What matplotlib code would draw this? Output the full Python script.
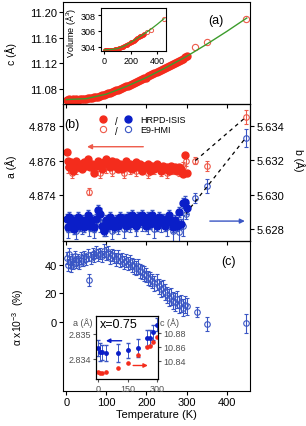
import matplotlib.pyplot as plt
from matplotlib.lines import Line2D
from matplotlib.legend_handler import HandlerTuple

plt.rcParams['font.family'] = ['Liberation Sans', 'DejaVu Sans']
plt.rcParams['mathtext.fontset'] = 'custom'
plt.rcParams['mathtext.rm'] = 'Liberation Sans'
plt.rcParams['mathtext.default'] = 'regular'

RED = '#f42c1c'
RED_O = '#ee5a4a'
BLUE = '#0a1ec8'
BLUE_O = '#3a56c4'
GREEN = '#3c9c2c'
GRAY = '#505050'

# HRPD-ISIS (filled symbols)
T_hrpd = [2, 5, 8, 12, 16, 20, 25, 30, 35, 40, 45, 50, 55, 60, 65, 70, 75, 80, 85, 90,
          95, 100, 105, 110, 115, 120, 125, 130, 135, 140, 145, 150, 155, 160, 165, 170,
          175, 180, 185, 190, 195, 200, 205, 210, 215, 220, 225, 230, 235, 240, 245, 250,
          255, 260, 265, 270, 275, 280, 285, 290, 295, 300]
c_hrpd = [11.0636, 11.0632, 11.0638, 11.0634, 11.0637, 11.0635, 11.0639, 11.0636, 11.0640, 11.0642,
          11.0645, 11.0650, 11.0654, 11.0658, 11.0663, 11.0668, 11.0675, 11.0683, 11.0691, 11.0700,
          11.0710, 11.0720, 11.0731, 11.0743, 11.0755, 11.0767, 11.0779, 11.0791, 11.0803, 11.0815,
          11.0828, 11.0840, 11.0854, 11.0868, 11.0882, 11.0896, 11.0910, 11.0924, 11.0938, 11.0952,
          11.0966, 11.0980, 11.0996, 11.1012, 11.1028, 11.1044, 11.1060, 11.1076, 11.1092, 11.1108,
          11.1124, 11.1140, 11.1157, 11.1174, 11.1191, 11.1208, 11.1225, 11.1242, 11.1259, 11.1276,
          11.1293, 11.1310]
a_hrpd = [4.8765, 4.8760, 4.8756, 4.8759, 4.8754, 4.8757, 4.8760, 4.8756, 4.8758, 4.8755,
          4.8759, 4.8757, 4.8761, 4.8756, 4.8758, 4.8753, 4.8757, 4.8760, 4.8757, 4.8755,
          4.8759, 4.8761, 4.8758, 4.8756, 4.8760, 4.8757, 4.8759, 4.8755, 4.8758, 4.8755,
          4.8757, 4.8760, 4.8756, 4.8758, 4.8755, 4.8757, 4.8759, 4.8756, 4.8758, 4.8754,
          4.8757, 4.8756, 4.8758, 4.8754, 4.8757, 4.8755, 4.8758, 4.8756, 4.8754, 4.8757,
          4.8755, 4.8756, 4.8754, 4.8757, 4.8755, 4.8756, 4.8754, 4.8756, 4.8755, 4.8752,
          4.8763, 4.8753]
b_hrpd = [5.6286, 5.6281, 5.6287, 5.6283, 5.6285, 5.6280, 5.6284, 5.6287, 5.6282, 5.6285,
          5.6281, 5.6284, 5.6288, 5.6282, 5.6285, 5.6281, 5.6286, 5.6291, 5.6289, 5.6282,
          5.6279, 5.6285, 5.6282, 5.6287, 5.6284, 5.6281, 5.6285, 5.6282, 5.6287, 5.6284,
          5.6286, 5.6282, 5.6287, 5.6283, 5.6288, 5.6285, 5.6282, 5.6287, 5.6284, 5.6288,
          5.6285, 5.6282, 5.6287, 5.6283, 5.6288, 5.6285, 5.6282, 5.6287, 5.6284, 5.6286,
          5.6282, 5.6285, 5.6288, 5.6284, 5.6281, 5.6285, 5.6282, 5.6290, 5.6283, 5.6295,
          5.6296, 5.6292]
b_hrpd_err = 0.0003

# fit curves
T_fit = [0, 50, 100, 150, 200, 250, 300, 350, 400, 450]
c_fit = [11.0635, 11.0650, 11.0720, 11.0840, 11.0980, 11.1140, 11.1310, 11.1500, 11.1700, 11.1910]
V_fit = [303.60, 303.63, 303.76, 304.08, 304.55, 305.07, 305.62, 306.20, 306.85, 307.55]

# volume inset
T_vol = [2, 10, 20, 30, 40, 50, 60, 70, 80, 90, 100, 110, 120, 130, 140, 150, 160, 170,
         180, 190, 200, 210, 220, 230, 240, 250, 260, 270, 280, 290, 300]
V_vol = [303.62, 303.61, 303.63, 303.62, 303.62, 303.63, 303.63, 303.64, 303.67, 303.71,
         303.76, 303.82, 303.88, 303.95, 304.02, 304.10, 304.18, 304.27, 304.36, 304.45,
         304.55, 304.65, 304.75, 304.85, 304.96, 305.07, 305.18, 305.29, 305.40, 305.51, 305.62]
T_e9_hi = [322, 352, 447]
c_e9_hi = [11.1456, 11.1540, 11.1900]
V_e9_hi = [305.85, 306.15, 307.50]

# E9-HMI (open symbols)
T_e9 = [5, 15, 25, 40, 58, 70, 85, 100, 115, 130, 145, 160, 175, 190, 205, 220, 235, 250,
        265, 280, 290, 298, 322, 352, 447]
a_e9 = [4.8756, 4.8753, 4.8755, 4.8757, 4.8742, 4.8755, 4.8753, 4.8756, 4.8754, 4.8757,
        4.8753, 4.8755, 4.8754, 4.8756, 4.8753, 4.8755, 4.8754, 4.8753, 4.8755, 4.8754,
        4.8756, 4.8760, 4.8760, 4.8757, 4.8785]
a_e9_err = [0.0003, 0.0003, 0.0003, 0.0003, 0.0002, 0.0003, 0.0003, 0.0003, 0.0003, 0.0003,
            0.0003, 0.0003, 0.0003, 0.0003, 0.0003, 0.0003, 0.0003, 0.0003, 0.0003, 0.0003,
            0.0003, 0.0003, 0.0002, 0.0003, 0.0004]
b_e9 = [5.6280, 5.6283, 5.6279, 5.6282, 5.6281, 5.6280, 5.6283, 5.6281, 5.6279, 5.6282,
        5.6280, 5.6283, 5.6281, 5.6284, 5.6282, 5.6280, 5.6283, 5.6281, 5.6279, 5.6278,
        5.6282, 5.6289, 5.6298, 5.6305, 5.6333]
b_e9_err = [0.0005, 0.0005, 0.0005, 0.0005, 0.0005, 0.0005, 0.0005, 0.0005, 0.0005, 0.0005,
            0.0005, 0.0005, 0.0005, 0.0005, 0.0005, 0.0005, 0.0005, 0.0005, 0.0006, 0.0006,
            0.0006, 0.0003, 0.0003, 0.0004, 0.0005]

# panel (c)
T_alpha = [2, 4, 6, 9, 12, 15, 18, 21, 25, 29, 33, 37, 41, 45, 50, 54, 58, 62, 66, 70,
           75, 80, 85, 90, 95, 100, 105, 110, 115, 120, 125, 130, 135, 140, 145, 150, 155,
           160, 165, 170, 175, 180, 185, 190, 195, 200, 205, 210, 215, 220, 225, 230, 235,
           240, 245, 250, 255, 260, 265, 270, 275, 280, 285, 290, 295, 300, 325, 352, 447]
alpha = [45, 40, 48, 42, 39, 44, 41, 46, 42, 44, 41, 45, 43, 46, 44, 47, 29.5, 45, 48, 46,
         49, 47, 48, 46, 50, 48, 49, 45, 47, 46, 44, 46, 43, 44, 42, 43, 41,
         42, 40, 39, 38, 39, 36, 35, 34, 33, 31, 30, 29, 27, 28, 25, 23,
         24, 21, 19, 17, 18, 15, 14, 16, 12, 13, 10, 12, 11, 7, -1.4, -0.9]
alpha_err = [4, 4, 4, 4, 4, 4, 4, 4, 4, 4, 4, 4, 4, 4, 4, 4, 4, 4, 4, 4,
             4, 4, 4, 4, 4.5, 4.5, 4.5, 4.5, 4.5, 4.5, 4.5, 4.5, 4.5, 4.5, 4.5, 4.5, 4.5,
             5, 5, 5, 5, 5, 5, 5, 5, 5, 5, 5, 5, 5, 5.5, 5.5, 5.5,
             5.5, 5.5, 5.5, 6, 6, 6, 6, 6, 6, 6, 6, 6, 6, 3.5, 5, 6.5]

# inset x=0.75
T_ins = [2, 12, 20, 40, 100, 150, 200, 250, 265, 280, 300]
a_ins = [2.83444, 2.83428, 2.83427, 2.83424, 2.83425, 2.83434, 2.83444, 2.83484, 2.83485, 2.83507, 2.83537]
a_ins_err = [0.0003, 0.00035, 0.0003, 0.0003, 0.00035, 0.0003, 0.00035, 0.0003, 0.0003, 0.0003, 0.00025]
c_ins = [10.8239, 10.8229, 10.8229, 10.8239, 10.8296, 10.8367, 10.8476, 10.8596, 10.8610, 10.8667, 10.8743]

W_PX, H_PX = 306, 427
fig = plt.figure(figsize=(W_PX / 100, H_PX / 100), dpi=100)


def box(x0, y0, x1, y1):
    return [x0 / W_PX, 1 - y1 / H_PX, (x1 - x0) / W_PX, (y1 - y0) / H_PX]


def style(ax, size=8, color='k'):
    ax.tick_params(direction='out', length=3, width=0.8, labelsize=size,
                   colors=color, pad=1.5)
    for s in ax.spines.values():
        s.set_linewidth(0.8)


xt = [0, 100, 200, 300, 400]
axa = fig.add_axes(box(63, 3, 250, 105), facecolor='none')
axb = fig.add_axes(box(63, 105, 250, 242), facecolor='none')
axc = fig.add_axes(box(63, 242, 250, 392), facecolor='none')
for ax in (axa, axb, axc):
    style(ax)
    ax.set_xlim(-8, 458)
    ax.set_xticks(xt)
for ax in (axa, axb):
    ax.set_xticklabels([])

# ---- (a)
axa.plot(T_hrpd, c_hrpd, 'o', color=RED, ms=5, zorder=2)
axa.plot(T_e9_hi, c_e9_hi, 'o', mfc='none', mec=RED_O, ms=4.5, mew=0.8, zorder=2)
axa.plot(T_fit, c_fit, color=GREEN, lw=1, zorder=3)
axa.set_ylim(11.0566, 11.216)
axa.set_yticks([11.08, 11.12, 11.16, 11.20])
axa.set_yticklabels(['11.08', '11.12', '11.16', '11.20'])
axa.set_ylabel('c (Å)', fontsize=7.5)
axa.yaxis.set_label_coords(-0.245, 0.5)
fig.text(216 / W_PX, 1 - 21 / H_PX, '(a)', fontsize=9, ha='center', va='center')

axv = fig.add_axes(box(101, 9, 166, 52))
style(axv, size=6.5)
axv.tick_params(length=2)
axv.plot(T_vol, V_vol, 'o', color=RED, ms=2.5, zorder=2)
axv.plot(T_e9_hi, V_e9_hi, 'o', mfc='none', mec=RED_O, ms=3, mew=0.7, zorder=2)
axv.plot(T_fit, V_fit, color=GREEN, lw=0.9, zorder=3)
axv.set_xlim(-25, 465)
axv.set_ylim(303.45, 308.9)
axv.set_xticks([0, 200, 400])
axv.set_yticks([304, 306, 308])
axv.set_ylabel('Volume (Å$^3$)', fontsize=6.5)
axv.yaxis.set_label_coords(-0.36, 0.45)

# ---- (b)
axb2 = axb.twinx()
style(axb2)
axb.errorbar(T_e9, a_e9, yerr=a_e9_err, fmt='o', mfc='none', mec=RED_O, ecolor=RED_O,
             ms=4, mew=0.8, elinewidth=0.8, capsize=1.5, zorder=1)
axb.plot(T_hrpd, a_hrpd, 'o', color=RED, ms=5, zorder=2)
axb.plot([T_e9[-3], T_e9[-1]], [a_e9[-3], a_e9[-1]], color='k', lw=0.9, dashes=(3, 3))
axb2.errorbar(T_e9, b_e9, yerr=b_e9_err, fmt='o', mfc='none', mec=BLUE_O, ecolor=BLUE_O,
              ms=4, mew=0.8, elinewidth=0.8, capsize=1.5, zorder=1)
axb2.errorbar(T_hrpd, b_hrpd, yerr=b_hrpd_err, fmt='o', color=BLUE, ecolor=BLUE_O,
              ms=5, elinewidth=0.7, capsize=1.2, zorder=2)
axb2.plot([T_e9[-4], T_e9[-1]], [b_e9[-4], b_e9[-1]], color='k', lw=0.9, dashes=(3, 3))
axb.set_ylim(4.87135, 4.87927)
axb.set_yticks([4.874, 4.876, 4.878])
axb.set_yticklabels(['4.874', '4.876', '4.878'])
axb2.set_ylim(5.6273, 5.63528)
axb2.set_yticks([5.628, 5.630, 5.632, 5.634])
axb2.set_yticklabels(['5.628', '5.630', '5.632', '5.634'])
axb.set_ylabel('a (Å)', fontsize=7.5)
axb.yaxis.set_label_coords(-0.245, 0.55)
axb2.set_ylabel('b (Å)', fontsize=7.5, rotation=270, va='bottom')
axb2.yaxis.set_label_coords(1.23, 0.6)
axb.annotate('', xy=(45, 4.8768), xytext=(199, 4.8768),
             arrowprops=dict(arrowstyle='-|>', color=RED_O, lw=1, mutation_scale=7))
axb2.annotate('', xy=(452, 5.62846), xytext=(351, 5.62846),
              arrowprops=dict(arrowstyle='-|>', color=BLUE_O, lw=1, mutation_scale=7))
fig.text(64 / W_PX, 1 - 125 / H_PX, '(b)', fontsize=9, ha='left', va='center')

hr = Line2D([], [], ls='none', marker='o', color=RED, ms=5)
hb = Line2D([], [], ls='none', marker='o', color=BLUE, ms=5)
er = Line2D([], [], ls='none', marker='o', mfc='none', mec=RED_O, ms=4.5, mew=0.8)
eb = Line2D([], [], ls='none', marker='o', mfc='none', mec=BLUE_O, ms=4.5, mew=0.8)
leg = axb2.legend([(hr, hb), (er, eb)], ['HRPD-ISIS', 'E9-HMI'],
                  handler_map={tuple: HandlerTuple(ndivide=None, pad=1.55)},
                  loc='upper left', bbox_to_anchor=(97.5 / W_PX, 1 - 116 / H_PX),
                  bbox_transform=fig.transFigure, frameon=False, fontsize=6.5,
                  handlelength=4, handletextpad=0.7, labelspacing=0.15,
                  borderpad=0, borderaxespad=0)
for yy in (122, 132):
    fig.text(116 / W_PX, 1 - yy / H_PX, '/', fontsize=7, ha='center', va='center')

# ---- (c)
axc.errorbar(T_alpha, alpha, yerr=alpha_err, fmt='o', mfc='none', mec=BLUE_O, ecolor=BLUE_O,
             ms=4, mew=0.8, elinewidth=0.8, capsize=1.5)
axc.set_ylim(-48.4, 56.8)
axc.set_yticks([0, 20, 40])
axc.set_xlabel('Temperature (K)', fontsize=8, labelpad=1)
axc.set_ylabel(r'$\alpha$ x10$^{-3}$  (%)', fontsize=7.5)
axc.yaxis.set_label_coords(-0.2, 0.5)
fig.text(229 / W_PX, 1 - 262 / H_PX, '(c)', fontsize=9, ha='center', va='center')

axi = fig.add_axes(box(96, 317, 158, 380))
axi2 = axi.twinx()
for ax in (axi, axi2):
    style(ax, size=6.5, color=GRAY)
    ax.tick_params(length=2)
axi.errorbar(T_ins, a_ins, yerr=a_ins_err, fmt='o', color=BLUE, ecolor=BLUE_O,
             ms=2.5, elinewidth=0.7, capsize=1.2)
axi2.plot(T_ins, c_ins, 'o', color=RED, ms=2.3)
axi.set_xlim(-9, 303)
axi.set_xticks([0, 150, 300])
axi.set_ylim(2.8332, 2.83572)
axi.set_yticks([2.834, 2.835])
axi.set_yticklabels(['2.834', '2.835'])
axi2.set_ylim(10.814, 10.904)
axi2.set_yticks([10.84, 10.86, 10.88])
axi2.set_yticklabels(['10.84', '10.86', '10.88'])
axi.annotate('', xy=(27, 2.83473), xytext=(134, 2.83473),
             arrowprops=dict(arrowstyle='-|>', color=BLUE, lw=1, mutation_scale=6))
axi2.annotate('', xy=(266, 10.8333), xytext=(164, 10.8333),
              arrowprops=dict(arrowstyle='-|>', color=RED, lw=1, mutation_scale=6))
axi.text(0.065, 0.88, 'x=0.75', transform=axi.transAxes, fontsize=9, ha='left', va='center')
axi.text(-0.06, 0.9, 'a (Å)', transform=axi.transAxes, fontsize=6.5, color=GRAY,
         ha='right', va='center')
axi.text(1.04, 0.9, 'c (Å)', transform=axi.transAxes, fontsize=6.5, color=GRAY,
         ha='left', va='center')

fig.savefig('out.png', dpi=100)
